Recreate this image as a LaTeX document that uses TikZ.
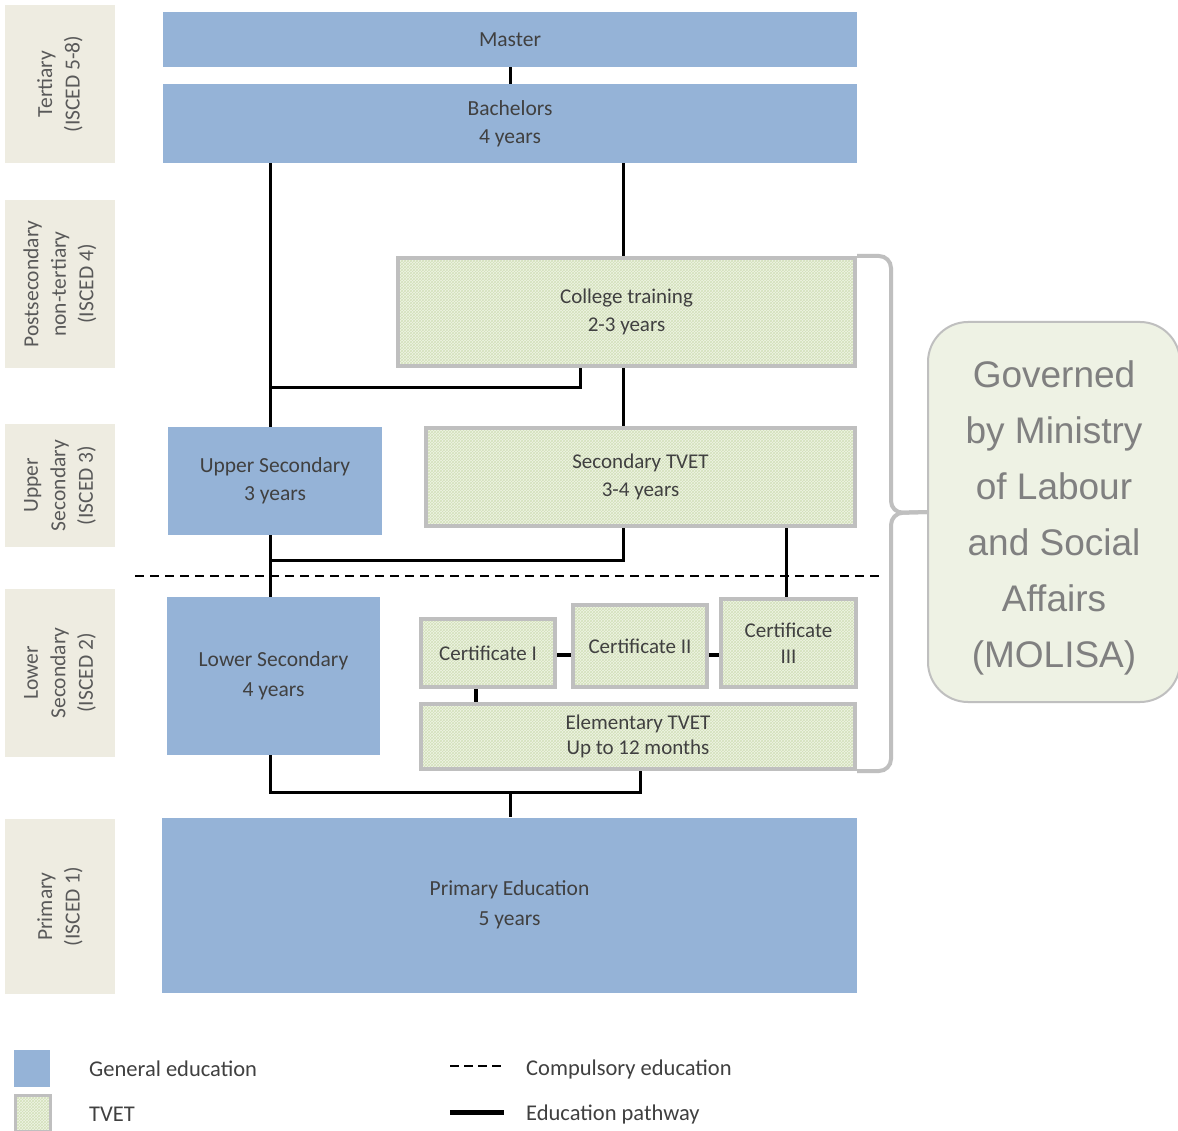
\documentclass[tikz,border=0pt]{standalone}
\usepackage{fontspec}
\setmainfont{Carlito}
\newfontfamily\arialf{Liberation Sans}
\usetikzlibrary{patterns}
\definecolor{genblue}{HTML}{95B3D7}
\definecolor{sidebg}{HTML}{EEECE1}
\definecolor{tvetbg}{HTML}{EFF4E5}
\definecolor{tvetpat}{HTML}{D3E1BA}
\definecolor{tvetedge}{HTML}{BFBFBF}
\definecolor{txt}{HTML}{404040}
\definecolor{sidetxt}{HTML}{595959}
\definecolor{molbg}{HTML}{EEF2E4}
\definecolor{moltxt}{HTML}{808080}
\pgfdeclarelayer{bg}
\pgfsetlayers{bg,main}
\begin{document}
\begin{tikzpicture}[x=1pt,y=-1pt,
  gen/.style={fill=genblue, draw=none, inner sep=0pt, align=center, text=txt,
    font=\fontsize{21.5}{28}\selectfont},
  tvet/.style={preaction={fill=tvetbg}, pattern=crosshatch, pattern color=tvetpat,
    draw=tvetedge, line width=4pt, inner sep=0pt, align=center, text=txt,
    font=\fontsize{21}{28}\selectfont},
  side/.style={fill=sidebg, draw=none, rotate=90, minimum height=110pt, inner sep=0pt,
    align=center, text=sidetxt, font=\fontsize{21.5}{27.5}\selectfont},
  path/.style={line width=3pt, black},
  brace/.style={draw=tvetedge, line width=4pt, rounded corners=12pt},
  legtxt/.style={anchor=west, text=txt, inner sep=0pt, font=\fontsize{22.5}{26}\selectfont}
]
\clip (0,0) rectangle (1178,1131);
\begin{pgfonlayer}{bg}
\fill[white] (0,0) rectangle (1178,1131);
\end{pgfonlayer}

% side labels
\node[side, minimum width=158pt] (s1) at (60,84) {Tertiary\\(ISCED 5-8)};
\node[side, minimum width=168pt] (s2) at (60,284) {Postsecondary\\non-tertiary\\(ISCED 4)};
\node[side, minimum width=123pt] (s3) at (60,485.5) {Upper\\Secondary\\(ISCED 3)};
\node[side, minimum width=168pt] (s4) at (60,673) {Lower\\Secondary\\(ISCED 2)};
\node[side, minimum width=175pt] (s5) at (60,906.5) {Primary\\(ISCED 1)};

% general education boxes
\node[gen, minimum width=694pt, minimum height=55pt] (master) at (510,39.5) {Master};
\node[gen, minimum width=694pt, minimum height=79pt] (bach) at (510,123.5) {Bachelors\\4 years};
\node[gen, minimum width=214pt, minimum height=108pt] (upper) at (275,481) {Upper Secondary\\3 years};
\node[gen, minimum width=213pt, minimum height=158pt, font=\fontsize{21.5}{30}\selectfont] (lower) at (273.5,676) {Lower Secondary\\4 years};
\node[gen, minimum width=695pt, minimum height=175pt, font=\fontsize{21.5}{30}\selectfont] (primary) at (509.5,905) {Primary Education\\5 years};

% TVET boxes
\node[tvet, minimum width=457pt, minimum height=108pt] (college) at (626.5,312) {College training\\2-3 years};
\node[tvet, minimum width=429pt, minimum height=98pt] (stvet) at (640.5,477) {Secondary TVET\\3-4 years};
\node[tvet, minimum width=134pt, minimum height=68pt] (cert1) at (488,653) {Certificate I};
\node[tvet, minimum width=134pt, minimum height=82pt] (cert2) at (640,646) {Certificate II};
\node[tvet, minimum width=135pt, minimum height=88pt, font=\fontsize{21}{26}\selectfont] (cert3) at (788.5,643) {Certificate\\III};
\node[tvet, minimum width=434pt, minimum height=65pt, font=\fontsize{21}{25}\selectfont] (elem) at (638,736.5) {Elementary TVET\\Up to 12 months};

% MOLISA
\node[draw=tvetedge, line width=2pt, fill=molbg, rounded corners=40pt,
  minimum width=252pt, minimum height=380pt, inner sep=0pt] (molisa) at (1054,512) {};
\node[inner sep=0pt, align=center, text=moltxt,
  font=\arialf\fontsize{37}{56}\selectfont] (molisatxt) at (1054,518)
  {Governed\\by Ministry\\of Labour\\and Social\\Affairs\\(MOLISA)};

% helper coordinates
\coordinate (xa) at (270,0);
\coordinate (xb) at (623,0);
\coordinate (xc) at (580,0);
\coordinate (xd) at (786,0);
\coordinate (xe) at (476,0);
\coordinate (yc) at (0,655);
\coordinate (j1) at (270,388);
\coordinate (j2) at (270,560);
\coordinate (j3) at (640,792);
\coordinate (j4) at (510,792);
\coordinate (bx) at (891,0);
\coordinate (bm) at (891,513);
\coordinate (dl) at (135,576);
\coordinate (dr) at (882,576);

\begin{pgfonlayer}{bg}
\draw[path] (master.south) -- (bach.north);
\draw[path] (bach.south -| xa) -- (upper.north -| xa);
\draw[path] (bach.south -| xb) -- (college.north -| xb);
\draw[path] (college.south -| xc) |- (j1);
\draw[path] (college.south -| xb) -- (stvet.north -| xb);
\draw[path] (stvet.south -| xb) |- (j2);
\draw[path] (upper.south -| xa) -- (lower.north -| xa);
\draw[path] (stvet.south -| xd) -- (cert3.north -| xd);
\draw[path, line width=4pt] (cert1.east |- yc) -- (cert2.west |- yc);
\draw[path, line width=4pt] (cert2.east |- yc) -- (cert3.west |- yc);
\draw[path, line width=4pt] (cert1.south -| xe) -- (elem.north -| xe);
\draw[path] (lower.south -| xa) |- (j3) -- (elem.south -| j3);
\draw[path] (j4) -- (primary.north -| j4);
\end{pgfonlayer}

\draw[dashed, line width=1.6pt, dash pattern=on 9pt off 6pt] (dl) -- (dr);

% brace
\draw[brace] (college.north east) -- (college.north east -| bx) -- (bm) -- (molisa.west);
\draw[brace] (elem.south east) -- (elem.south east -| bx) -- (bm) -- (molisa.west);

% legend
\node[fill=genblue, minimum width=36pt, minimum height=37pt, inner sep=0pt] (lg1) at (32,1068.5) {};
\node[tvet, line width=3pt, minimum width=35pt, minimum height=36pt] (lg2) at (33,1113) {};
\node[legtxt] (lt1) at (89,1069) {General education};
\node[legtxt] (lt2) at (89,1114) {TVET};
\coordinate (ld1) at (450,1066);
\coordinate (ld2) at (502,1066);
\coordinate (lp1) at (450,1112);
\coordinate (lp2) at (504,1112);
\draw[line width=1.6pt, dash pattern=on 9pt off 5pt] (ld1) -- (ld2);
\draw[line width=5pt] (lp1) -- (lp2);
\node[legtxt] (lt3) at (526,1069) {Compulsory education};
\node[legtxt] (lt4) at (526,1114) {Education pathway};
\end{tikzpicture}
\end{document}
